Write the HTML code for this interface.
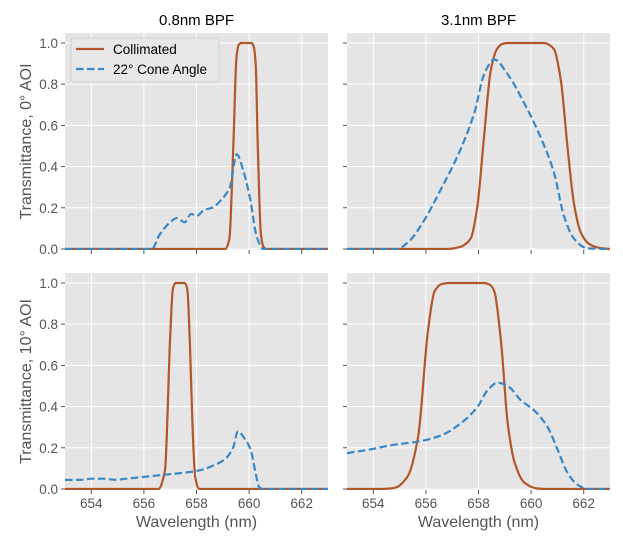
<!DOCTYPE html>
<html><head><meta charset="utf-8"><style>
body{margin:0;background:#fff}
svg{display:block;font-family:"Liberation Sans","DejaVu Sans",sans-serif}
</style></head><body>
<svg id="fig" width="623" height="545" viewBox="0 0 623 545"></svg>
<script>
const xTicks=[654,656,658,660,662];
const yTicks=[0,0.2,0.4,0.6,0.8,1.0];
const yTickLabels=["0.0","0.2","0.4","0.6","0.8","1.0"];
const colTitles=["0.8nm BPF","3.1nm BPF"];
const rowLabels=["Transmittance, 0° AOI","Transmittance, 10° AOI"];
// panel series: [wavelength, transmittance]
const tlCollimated=[[653,0],[659.1,0],[659.25,0.05],[659.4,0.5],[659.52,0.93],[659.6,0.99],[659.7,1],[660.1,1],[660.18,0.98],[660.25,0.9],[660.33,0.5],[660.45,0.07],[660.55,0.01],[660.65,0],[663,0]];
const tlCone=[[653,0],[656.3,0],[656.6,0.07],[657.0,0.13],[657.25,0.15],[657.55,0.13],[657.8,0.17],[658.0,0.16],[658.3,0.19],[658.6,0.2],[658.95,0.24],[659.27,0.3],[659.53,0.46],[659.78,0.38],[660.03,0.25],[660.29,0.06],[660.54,0],[663,0]];
const trCollimated=[[653,0],[656.8,0],[657.3,0.01],[657.7,0.05],[657.95,0.2],[658.2,0.53],[658.47,0.87],[658.7,0.97],[658.9,0.995],[659.1,1],[660.5,1],[660.7,0.99],[660.87,0.97],[661.13,0.82],[661.38,0.5],[661.63,0.22],[661.89,0.08],[662.2,0.025],[662.6,0.005],[663,0]];
const trCone=[[653,0],[654.9,0],[655.3,0.03],[655.94,0.14],[656.57,0.29],[657.2,0.45],[657.84,0.66],[658.22,0.85],[658.6,0.92],[659.1,0.85],[659.73,0.71],[660.37,0.54],[660.87,0.37],[661.25,0.16],[661.63,0.05],[662.14,0.003],[663,0]];
const blCollimated=[[653,0],[656.55,0],[656.8,0.09],[657.0,0.74],[657.1,0.97],[657.2,1],[657.55,1],[657.65,0.97],[657.75,0.7],[657.85,0.3],[657.95,0.06],[658.1,0],[663,0]];
const blCone=[[653,0.044],[653.55,0.044],[654.0,0.05],[654.45,0.05],[654.9,0.045],[655.35,0.05],[656.1,0.06],[656.85,0.07],[657.6,0.08],[658.1,0.09],[658.75,0.12],[659.13,0.15],[659.39,0.2],[659.58,0.28],[659.8,0.25],[660.06,0.19],[660.25,0.076],[660.38,0.01],[660.5,0],[663,0]];
const brCollimated=[[653,0],[654.3,0],[654.8,0.005],[655.3,0.06],[655.7,0.25],[656.08,0.77],[656.33,0.96],[656.6,0.995],[656.9,1],[658.2,1],[658.45,0.99],[658.6,0.96],[658.86,0.71],[659.11,0.32],[659.37,0.13],[659.75,0.03],[660.2,0.003],[660.6,0],[663,0]];
const brCone=[[653,0.174],[653.8,0.19],[654.8,0.215],[655.7,0.23],[656.58,0.26],[657.34,0.32],[657.97,0.4],[658.35,0.48],[658.73,0.516],[659.11,0.5],[659.62,0.43],[660.13,0.38],[660.63,0.3],[661.01,0.19],[661.39,0.077],[661.77,0.02],[662.15,0],[663,0]];

const NS="http://www.w3.org/2000/svg";
const svg=document.getElementById('fig');
function mk(tag,attrs,parent){const e=document.createElementNS(NS,tag);for(const k in attrs)e.setAttribute(k,attrs[k]);(parent||svg).appendChild(e);return e;}
// monotone cubic path
function smoothPath(P){
  const n=P.length;if(n<2)return '';
  const dx=[],s=[];for(let i=0;i<n-1;i++){dx.push(P[i+1][0]-P[i][0]);s.push((P[i+1][1]-P[i][1])/dx[i]);}
  const m=new Array(n);m[0]=s[0];m[n-1]=s[n-2];
  for(let i=1;i<n-1;i++){m[i]=(s[i-1]*s[i]<=0)?0:3*(dx[i-1]+dx[i])/((2*dx[i]+dx[i-1])/s[i-1]+(dx[i]+2*dx[i-1])/s[i]);}
  let d='M'+P[0][0].toFixed(2)+','+P[0][1].toFixed(2);
  for(let i=0;i<n-1;i++){const h=dx[i]/3;
    d+=' C'+(P[i][0]+h).toFixed(2)+','+(P[i][1]+m[i]*h).toFixed(2)+' '+(P[i+1][0]-h).toFixed(2)+','+(P[i+1][1]-m[i+1]*h).toFixed(2)+' '+P[i+1][0].toFixed(2)+','+P[i+1][1].toFixed(2);}
  return d;
}
const xmin=653,xmax=663,ymin=-0.005,ymax=1.0485;
const panels=[
 {name:'top-left',x0:65,y0:33,c:tlCollimated,d:tlCone,row:0,col:0},
 {name:'top-right',x0:347,y0:33,c:trCollimated,d:trCone,row:0,col:1},
 {name:'bottom-left',x0:65,y0:273,c:blCollimated,d:blCone,row:1,col:0},
 {name:'bottom-right',x0:347,y0:273,c:brCollimated,d:brCone,row:1,col:1}];
const W=263,H=217;
panels.forEach(p=>{
  const sx=v=>p.x0+(v-xmin)/(xmax-xmin)*W;
  const sy=v=>p.y0+(ymax-v)/(ymax-ymin)*H;
  const g=mk('g',{});
  
  
  mk('rect',{x:p.x0,y:p.y0,width:W,height:H,fill:'#e5e5e5'},g);
  const cp='clip-'+p.name;
  const cl=mk('clipPath',{id:cp},g);mk('rect',{x:p.x0,y:p.y0,width:W,height:H},cl);
  xTicks.forEach(t=>{
    const l=mk('line',{x1:sx(t),x2:sx(t),y1:p.y0,y2:p.y0+H,stroke:'#fff','stroke-width':1},g);
    
    
    mk('line',{x1:sx(t),x2:sx(t),y1:p.y0+H,y2:p.y0+H+4,stroke:'#555','stroke-width':1},g);
    if(p.row===1){
      const tx=mk('text',{x:sx(t),y:508,'text-anchor':'middle','font-size':13.5,fill:'#555'},g);
      tx.textContent=t;
      
      
    }
  });
  yTicks.forEach((t,i)=>{
    const l=mk('line',{x1:p.x0,x2:p.x0+W,y1:sy(t),y2:sy(t),stroke:'#fff','stroke-width':1},g);
    
    
    mk('line',{x1:p.x0-4,x2:p.x0,y1:sy(t),y2:sy(t),stroke:'#555','stroke-width':1},g);
    if(p.col===0){
      const tx=mk('text',{x:p.x0-7,y:sy(t)+5,'text-anchor':'end','font-size':13.5,fill:'#555'},g);
      tx.textContent=yTickLabels[i];
      
      
    }
  });
  const pts=a=>a.map(q=>[sx(q[0]),sy(q[1])]);
  const lc=mk('path',{d:smoothPath(pts(p.c)),fill:'none',stroke:'#b3562b','stroke-width':2.2,'stroke-linejoin':'round','clip-path':'url(#'+cp+')'},g);
  
  
  const ld=mk('path',{d:smoothPath(pts(p.d)),fill:'none',stroke:'#3a87c4','stroke-width':2.2,'stroke-dasharray':'7.5,3.5','stroke-linejoin':'round','clip-path':'url(#'+cp+')'},g);
  
  
});
colTitles.forEach((t,i)=>{
  const tx=mk('text',{x:(i?347:65)+W/2,y:25,'text-anchor':'middle','font-size':15,fill:'#000'});
  tx.textContent=t;
  
  
});
rowLabels.forEach((t,i)=>{
  const cy=(i?273:33)+H/2;
  const tx=mk('text',{x:0,y:0,'text-anchor':'middle','font-size':16,fill:'#555',transform:`translate(31,${cy}) rotate(-90)`});
  tx.textContent=t;
  
  
});
[65,347].forEach(x0=>{
  const tx=mk('text',{x:x0+W/2,y:527,'text-anchor':'middle','font-size':16,fill:'#555'});
  tx.textContent='Wavelength (nm)';
  
  
});
const lg=mk('g',{});


mk('rect',{x:71,y:38,width:148,height:44,rx:3,fill:'#e8e8e8',stroke:'#cfcfcf','stroke-width':1},lg);
mk('line',{x1:76,x2:104,y1:49,y2:49,stroke:'#b3562b','stroke-width':2.2},lg);
mk('line',{x1:76,x2:104,y1:69,y2:69,stroke:'#3a87c4','stroke-width':2.2,'stroke-dasharray':'7.5,3.5'},lg);
const t1=mk('text',{x:113,y:54,'font-size':13.5,fill:'#000'},lg);t1.textContent='Collimated';


const t2=mk('text',{x:113,y:74,'font-size':13.5,fill:'#000'},lg);t2.textContent='22° Cone Angle';


</script>
</body></html>
